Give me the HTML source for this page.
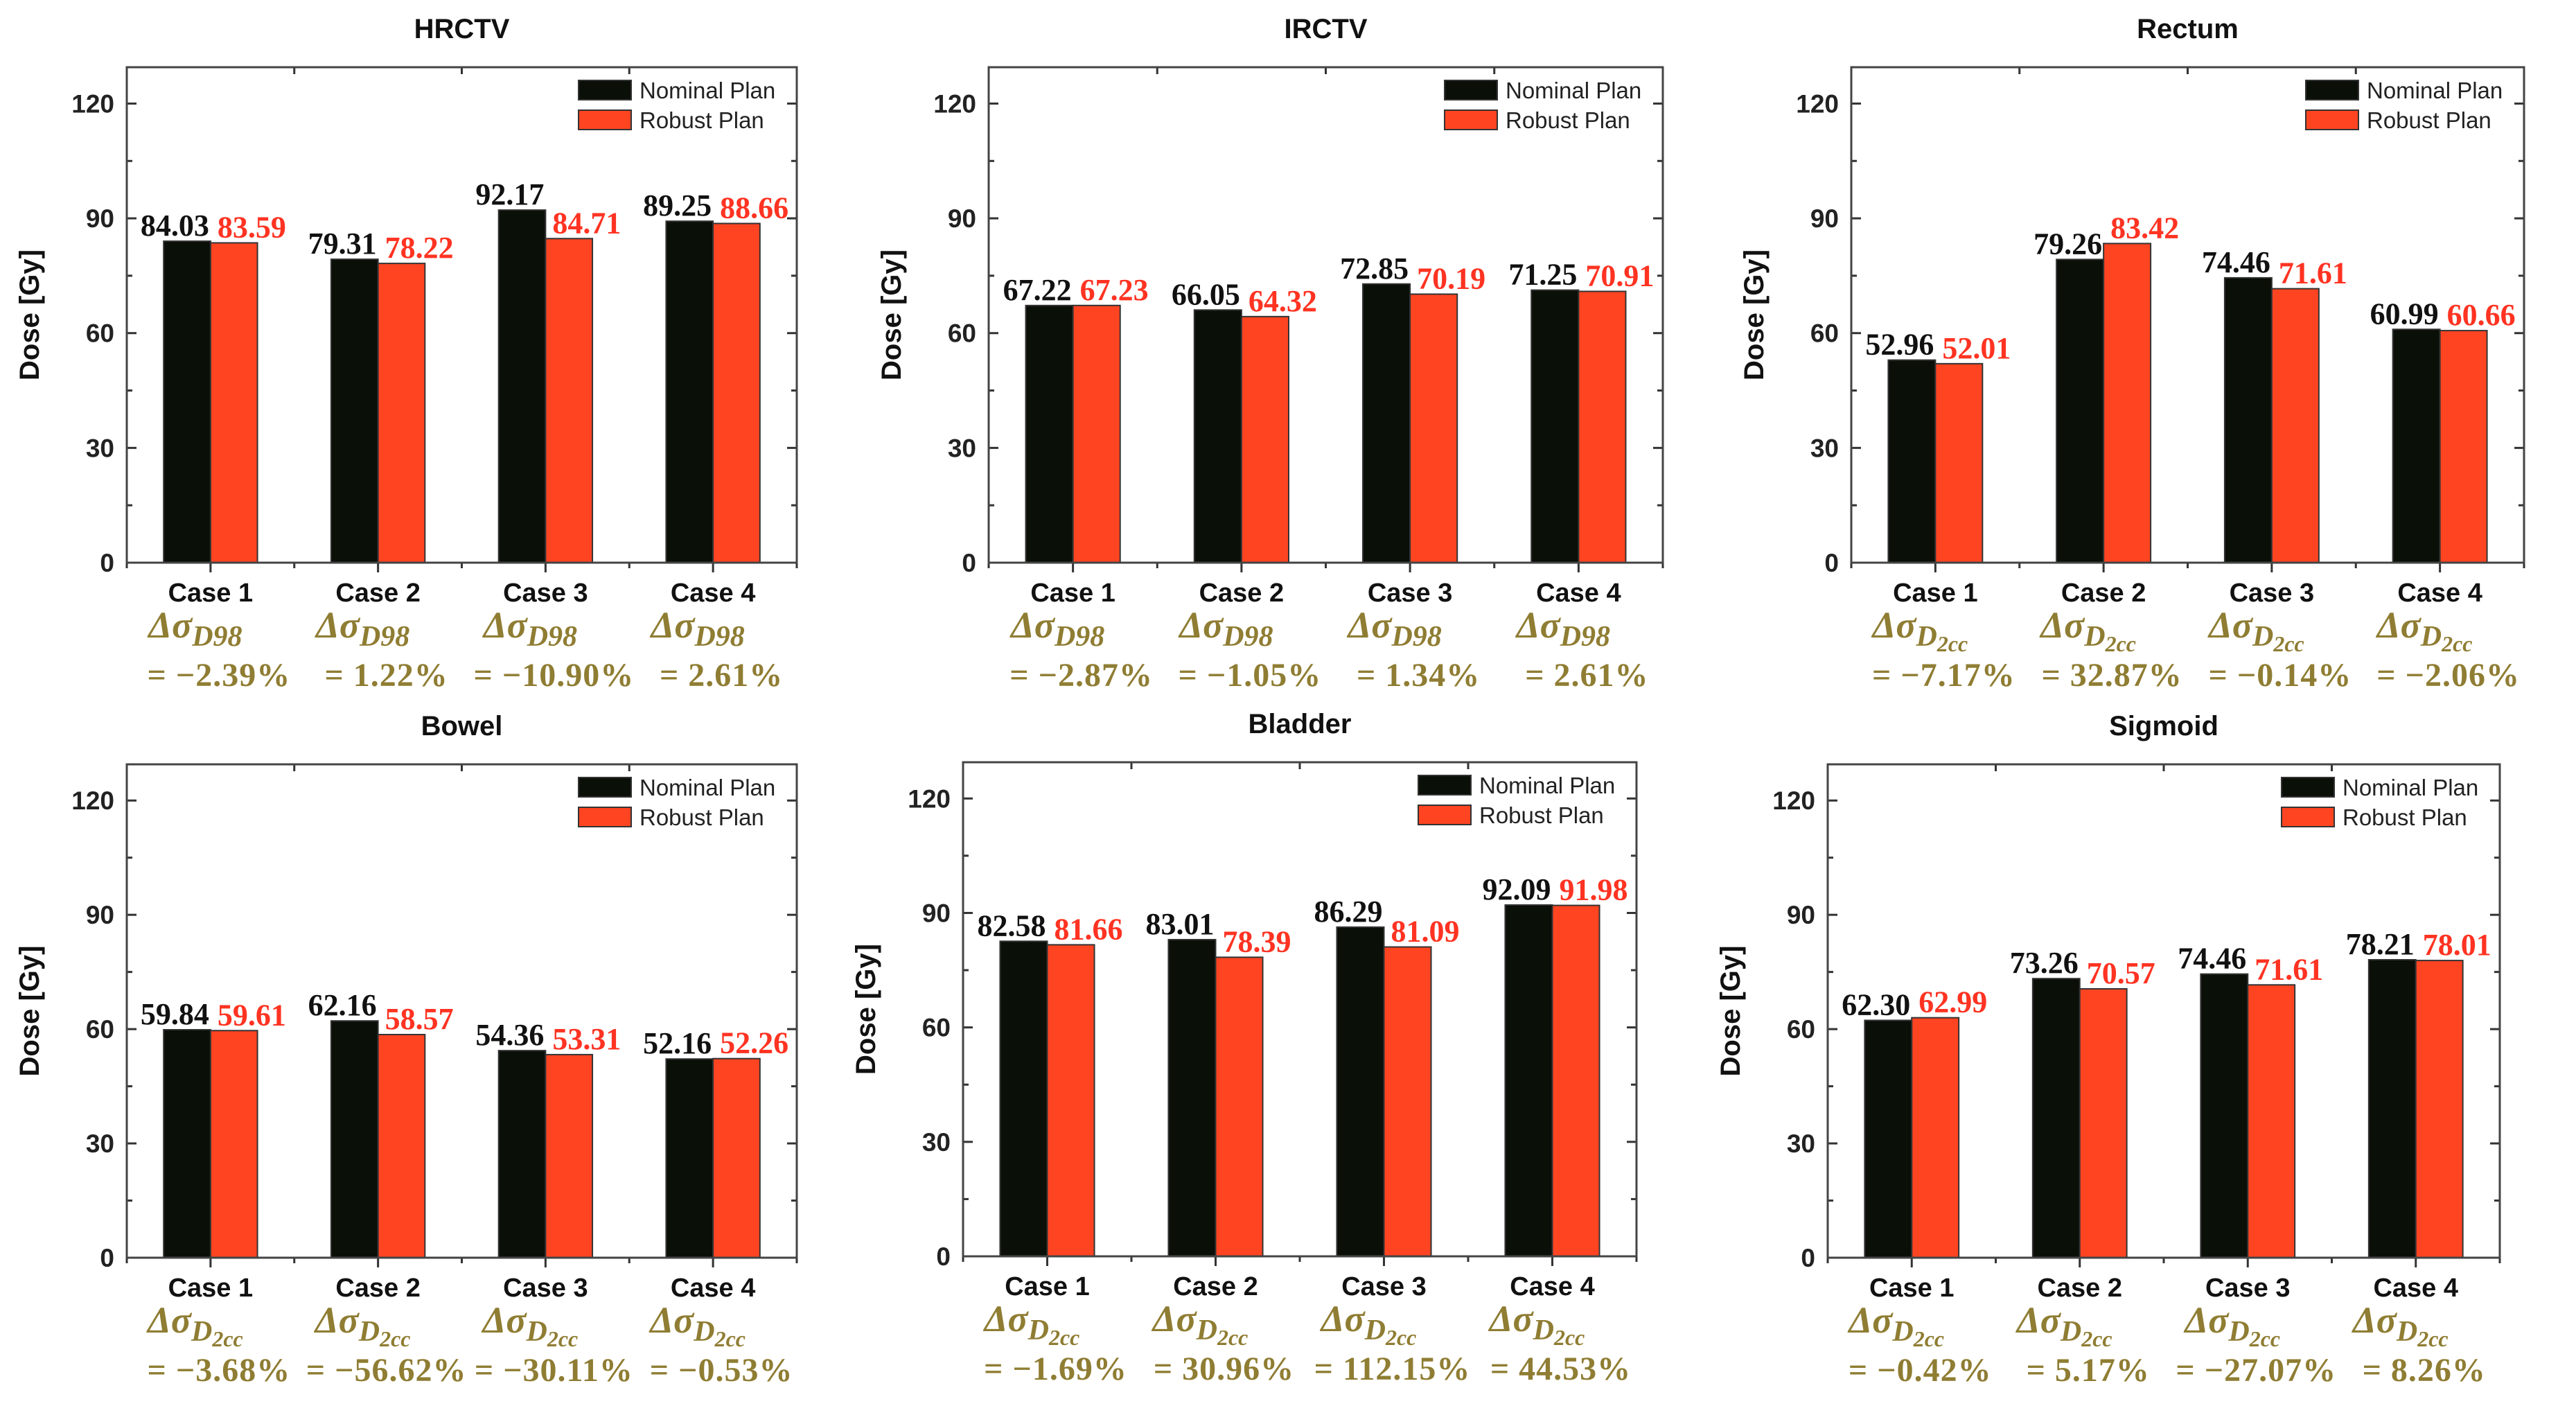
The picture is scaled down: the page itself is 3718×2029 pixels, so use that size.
<!DOCTYPE html>
<html><head><meta charset="utf-8"><style>
html,body{margin:0;padding:0;background:#fff;}
svg{display:block;}
</style></head><body>
<svg id="fig" width="3718" height="2029" viewBox="0 0 3718 2029" xmlns="http://www.w3.org/2000/svg"></svg>
<script>
const categories = ["Case 1","Case 2","Case 3","Case 4"];
const yTicks = [0,30,60,90,120];
const hrctvNominal = [84.03,79.31,92.17,89.25];
const hrctvRobust = [83.59,78.22,84.71,88.66];
const hrctvDelta = ["= \u22122.39%","= 1.22%","= \u221210.90%","= 2.61%"];
const irctvNominal = [67.22,66.05,72.85,71.25];
const irctvRobust = [67.23,64.32,70.19,70.91];
const irctvDelta = ["= \u22122.87%","= \u22121.05%","= 1.34%","= 2.61%"];
const rectumNominal = [52.96,79.26,74.46,60.99];
const rectumRobust = [52.01,83.42,71.61,60.66];
const rectumDelta = ["= \u22127.17%","= 32.87%","= \u22120.14%","= \u22122.06%"];
const bowelNominal = [59.84,62.16,54.36,52.16];
const bowelRobust = [59.61,58.57,53.31,52.26];
const bowelDelta = ["= \u22123.68%","= \u221256.62%","= \u221230.11%","= \u22120.53%"];
const bladderNominal = [82.58,83.01,86.29,92.09];
const bladderRobust = [81.66,78.39,81.09,91.98];
const bladderDelta = ["= \u22121.69%","= 30.96%","= 112.15%","= 44.53%"];
const sigmoidNominal = [62.30,73.26,74.46,78.21];
const sigmoidRobust = [62.99,70.57,71.61,78.01];
const sigmoidDelta = ["= \u22120.42%","= 5.17%","= \u221227.07%","= 8.26%"];

const NS="http://www.w3.org/2000/svg";
const svg=document.getElementById('fig');
function mk(tag,attrs,parent,text){const e=document.createElementNS(NS,tag);for(const k in attrs)e.setAttribute(k,attrs[k]);if(text!==undefined)e.textContent=text;(parent||svg).appendChild(e);return e;}
const YMAX=129.5;
const panels=[
 {key:"hrctv",title:"HRCTV",nom:hrctvNominal,rob:hrctvRobust,delta:hrctvDelta,sub:"D98",l:183,r:1150,top:97,zero:812},
 {key:"irctv",title:"IRCTV",nom:irctvNominal,rob:irctvRobust,delta:irctvDelta,sub:"D98",l:1427,r:2400,top:97,zero:812},
 {key:"rectum",title:"Rectum",nom:rectumNominal,rob:rectumRobust,delta:rectumDelta,sub:"2cc",l:2672,r:3643,top:97,zero:812},
 {key:"bowel",title:"Bowel",nom:bowelNominal,rob:bowelRobust,delta:bowelDelta,sub:"2cc",l:183,r:1150,top:1103,zero:1815},
 {key:"bladder",title:"Bladder",nom:bladderNominal,rob:bladderRobust,delta:bladderDelta,sub:"2cc",l:1390,r:2362,top:1100,zero:1813},
 {key:"sigmoid",title:"Sigmoid",nom:sigmoidNominal,rob:sigmoidRobust,delta:sigmoidDelta,sub:"2cc",l:2638,r:3608,top:1103,zero:1815}
];
const SANS='"Liberation Sans", Arial, sans-serif', SERIF='"Liberation Serif", "Times New Roman", serif';
panels.forEach(p=>{
  const g=mk('g',{});
  
  
  const y=v=>p.zero-(v/YMAX)*(p.zero-p.top);
  const step=(p.r-p.l)/categories.length;
  const xc=i=>p.l+step*(i+0.5);
  const bw=step*0.28;
  const t=mk('text',{x:(p.l+p.r)/2,y:p.top-42,'text-anchor':'middle','font-family':SANS,'font-weight':'bold','font-size':40,fill:'#111'},g,p.title);
  
  
  yTicks.forEach(v=>{
    mk('line',{x1:p.l,x2:p.l+14,y1:y(v),y2:y(v),stroke:'#333','stroke-width':3},g);
    mk('line',{x1:p.r,x2:p.r-14,y1:y(v),y2:y(v),stroke:'#333','stroke-width':3},g);
    const tl=mk('text',{x:p.l-18,y:y(v)+13,'text-anchor':'end','font-family':SANS,'font-weight':'bold','font-size':37,fill:'#222'},g,String(v));
    
    
  });
  for(let v=15;v<YMAX;v+=30){
    mk('line',{x1:p.l,x2:p.l+8,y1:y(v),y2:y(v),stroke:'#333','stroke-width':3},g);
    mk('line',{x1:p.r,x2:p.r-8,y1:y(v),y2:y(v),stroke:'#333','stroke-width':3},g);
  }
  for(let i=0;i<=categories.length;i++){
    const xb=p.l+step*i;
    mk('line',{x1:xb,x2:xb,y1:p.top,y2:p.top+10,stroke:'#333','stroke-width':3},g);
    mk('line',{x1:xb,x2:xb,y1:p.zero,y2:p.zero+8,stroke:'#333','stroke-width':3},g);
  }
  categories.forEach((c,i)=>{
    const cx=xc(i);
    const b1=mk('rect',{x:cx-bw,y:y(p.nom[i]),width:bw,height:p.zero-y(p.nom[i]),fill:'#0a0f08',stroke:'#333','stroke-width':2},g);
    
    
    const b2=mk('rect',{x:cx,y:y(p.rob[i]),width:bw,height:p.zero-y(p.rob[i]),fill:'#ff4422',stroke:'#333','stroke-width':2},g);
    
    
    const l1=mk('text',{x:cx-2,y:y(p.nom[i])-8,'text-anchor':'end','font-family':SERIF,'font-weight':'bold','font-size':44,fill:'#111'},g,p.nom[i].toFixed(2));
    
    
    const l2=mk('text',{x:cx+10,y:y(p.rob[i])-8,'text-anchor':'start','font-family':SERIF,'font-weight':'bold','font-size':44,fill:'#ff3322'},g,p.rob[i].toFixed(2));
    
    
    mk('line',{x1:cx,x2:cx,y1:p.zero,y2:p.zero+14,stroke:'#333','stroke-width':3},g);
    const cl=mk('text',{x:cx,y:p.zero+56,'text-anchor':'middle','font-family':SANS,'font-weight':'bold','font-size':38,fill:'#111'},g,c);
    
    
    const d1=mk('text',{x:cx-22,y:p.zero+108,'text-anchor':'middle','font-family':SERIF,'font-weight':'bold','font-style':'italic','font-size':54,fill:'#8f7d33'},g);
    
    
    mk('tspan',{},d1,'\u0394\u03c3');
    if(p.sub==="D98"){
      mk('tspan',{dy:12,'font-size':42},d1,'D98');
    } else {
      mk('tspan',{dy:12,'font-size':42},d1,'D');
      mk('tspan',{dy:8,'font-size':32},d1,'2cc');
    }
    const d2=mk('text',{x:cx+12,y:p.zero+178,'text-anchor':'middle','font-family':SERIF,'font-weight':'bold','font-size':48,'letter-spacing':1,fill:'#8f7d33'},g,p.delta[i]);
    
    
  });
  mk('rect',{x:p.l,y:p.top,width:p.r-p.l,height:p.zero-p.top,fill:'none',stroke:'#444','stroke-width':3},g);
  const yt=mk('text',{x:0,y:0,transform:`translate(${p.l-127},${(p.top+p.zero)/2}) rotate(-90)`,'text-anchor':'middle','font-family':SANS,'font-weight':'bold','font-size':40,fill:'#111'},g,'Dose [Gy]');
  
  
  const lg=mk('g',{},g);
  
  
  const lx=p.r-315;
  mk('rect',{x:lx,y:p.top+19,width:76,height:28,fill:'#0a0f08',stroke:'#333','stroke-width':2},lg);
  mk('rect',{x:lx,y:p.top+62,width:76,height:28,fill:'#ff4422',stroke:'#333','stroke-width':2},lg);
  const e1=mk('text',{x:lx+88,y:p.top+45,'font-family':SANS,'font-size':33,fill:'#222'},lg,'Nominal Plan');
  
  
  const e2=mk('text',{x:lx+88,y:p.top+88,'font-family':SANS,'font-size':33,fill:'#222'},lg,'Robust Plan');
  
  
});
</script>
</body></html>
